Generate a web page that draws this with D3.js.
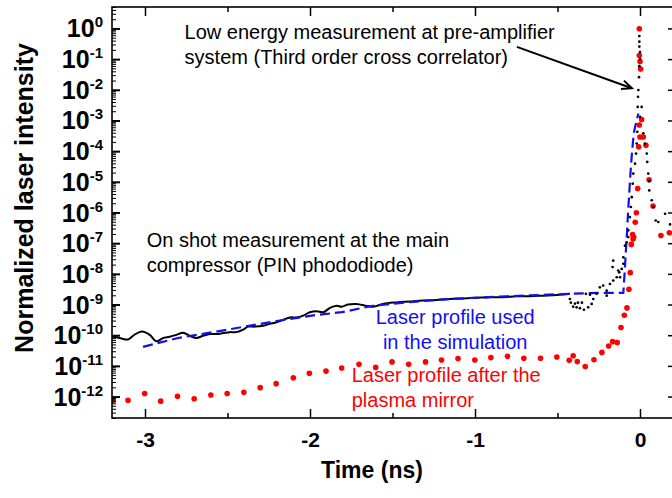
<!DOCTYPE html>
<html>
<head>
<meta charset="utf-8">
<script src="https://cdn.jsdelivr.net/npm/d3@7"></script>
<style>
  html, body { margin: 0; padding: 0; background: #fff; }
  svg { display: block; font-family: "Liberation Sans", Arial, Helvetica, sans-serif; }
</style>
</head>
<body>
<svg id="chart" width="672" height="498"></svg>
<script>
// Laser contrast traces: time in ns, intensity stored as log10 of normalized intensity.

// On-shot PIN photodiode trace (main compressor)
const pinTime = [-3.204,-3.154,-3.103,-3.063,-3.018,-2.971,-2.931,-2.890,-2.850,-2.809,-2.769,-2.729,-2.688,-2.648,-2.607,-2.567,-2.526,-2.486,-2.445,-2.405,-2.375,-2.334,-2.283,-2.243,-2.203,-2.162,-2.122,-2.081,-2.041,-2.001,-1.960,-1.919,-1.879,-1.839,-1.808,-1.770,-1.719,-1.618,-1.558,-1.476,-1.396,-1.315,-1.234,-1.153,-1.072,-0.991,-0.910,-0.829,-0.748,-0.667,-0.587,-0.505,-0.425];
const pinExp = [-10.04,-10.09,-10.14,-9.98,-9.88,-9.99,-10.20,-10.09,-10.05,-9.99,-9.92,-10.02,-10.09,-10.02,-9.96,-9.96,-9.93,-9.90,-9.90,-9.82,-9.72,-9.72,-9.69,-9.63,-9.58,-9.50,-9.42,-9.42,-9.36,-9.25,-9.22,-9.25,-9.11,-9.04,-9.07,-9.00,-8.98,-9.07,-8.98,-8.93,-8.90,-8.87,-8.85,-8.82,-8.80,-8.78,-8.76,-8.76,-8.73,-8.73,-8.71,-8.69,-8.65];

// Laser profile used in the simulation
const simTime = [-3.012,-2.799,-2.597,-2.395,-2.192,-1.990,-1.808,-1.618,-1.416,-1.214,-1.012,-0.809,-0.607,-0.425,-0.243,-0.101,-0.093,-0.085,-0.078,-0.073,-0.066,-0.058,-0.049,-0.038,-0.025,-0.010];
const simExp = [-10.38,-10.09,-9.91,-9.72,-9.53,-9.36,-9.25,-9.04,-8.93,-8.84,-8.78,-8.73,-8.69,-8.65,-8.62,-8.62,-7.95,-7.20,-6.60,-6.05,-5.45,-4.73,-4.08,-3.42,-3.10,-2.77];

// Laser profile after the plasma mirror
const pmTime = [-3.194,-3.103,-3.002,-2.905,-2.803,-2.702,-2.601,-2.502,-2.401,-2.302,-2.205,-2.101,-2.004,-1.903,-1.808,-1.703,-1.602,-1.503,-1.402,-1.300,-1.203,-1.103,-1.001,-0.904,-0.803,-0.704,-0.603,-0.504,-0.429,-0.405,-0.380,-0.332,-0.279,-0.231,-0.190,-0.166,-0.138,-0.115,-0.095,-0.079,-0.067,-0.059,-0.053,-0.045,-0.042,-0.038,-0.029,-0.022,-0.014,-0.008,-0.004,-0.004,-0.004,0.000,0.000,0.004,0.010,0.020,0.036,0.055,0.079,0.127,0.178];
const pmExp = [-12.13,-12.12,-11.90,-12.15,-11.99,-12.07,-11.95,-11.90,-11.86,-11.71,-11.58,-11.39,-11.24,-11.17,-11.07,-10.95,-11.05,-10.87,-10.95,-10.87,-10.81,-10.76,-10.81,-10.73,-10.69,-10.75,-10.75,-10.71,-10.82,-10.67,-10.86,-11.02,-10.80,-10.56,-10.35,-10.21,-10.24,-9.75,-9.35,-9.11,-8.50,-7.96,-7.04,-6.72,-6.86,-6.80,-6.32,-6.01,-5.22,-3.86,-3.15,-0.88,-0.01,-1.08,-3.54,-1.32,-2.97,-3.54,-3.81,-4.93,-5.79,-6.75,-6.66];

// Third order cross correlator (pre-amplifier)
const xcTime = [-0.425,-0.419,-0.405,-0.394,-0.384,-0.376,-0.364,-0.352,-0.340,-0.328,-0.314,-0.303,-0.293,-0.283,-0.263,-0.243,-0.223,-0.202,-0.202,-0.182,-0.162,-0.162,-0.166,-0.141,-0.132,-0.126,-0.121,-0.111,-0.101,-0.101,-0.091,-0.081,-0.071,-0.071,-0.061,-0.055,-0.050,-0.044,-0.041,-0.030,-0.024,-0.020,-0.016,-0.014,-0.012,-0.010,-0.006,-0.004,0.000,0.000,-0.004,-0.004,-0.004,0.000,0.010,0.020,0.030,0.041,0.044,0.050,0.056,0.056,0.071,0.081,0.095,0.111,0.152,0.182];
const xcExp = [-8.82,-8.94,-9.07,-8.97,-9.09,-8.94,-9.12,-8.94,-9.17,-8.65,-9.09,-8.68,-8.98,-8.82,-8.65,-8.44,-8.38,-8.55,-8.71,-8.33,-8.22,-7.57,-7.78,-8.11,-7.89,-7.95,-8.11,-7.84,-7.67,-7.46,-7.08,-6.97,-6.80,-6.58,-6.15,-5.82,-5.50,-5.06,-4.73,-4.41,-4.08,-3.75,-3.37,-2.56,-2.23,-2.01,-1.59,-1.23,-1.00,-0.77,-0.59,-0.43,-0.25,-2.88,-2.56,-3.42,-3.75,-4.08,-4.35,-4.73,-4.98,-5.28,-5.60,-5.82,-6.26,-6.31,-6.04,-6.39];

// Axis ticks
const xMajorTicks = [-3, -2, -1, 0];
const xMinorTicks = [-2.5, -1.5, -0.5];
const yDecades = [-12, -11, -10, -9, -8, -7, -6, -5, -4, -3, -2, -1, 0];

const L = 112, R = 673, T = 7, B = 418;

const x = d3.scaleLinear().domain([-3.2, 0.2]).range([L, R]);
const y = d3.scaleLog().domain([2e-13, 5]).range([B, T]);
const pow = e => Math.pow(10, e);

const svg = d3.select('#chart');

svg.append('defs').append('clipPath').attr('id', 'plot-clip')
  .append('rect').attr('x', L).attr('y', T).attr('width', R - L).attr('height', B - T);

const plot = svg.append('g').attr('clip-path', 'url(#plot-clip)');

const zip = (ts, es) => ts.map((t, i) => ({ t, v: pow(es[i]) }));

// PIN photodiode solid line
plot.append('path')
  .datum(zip(pinTime, pinExp))
  .attr('fill', 'none')
  .attr('stroke', '#000')
  .attr('stroke-width', 2)
  .attr('d', d3.line().x(d => x(d.t)).y(d => y(d.v)).curve(d3.curveCatmullRom.alpha(0.5)));

// Simulation profile dashed line
plot.append('path')
  .datum(zip(simTime, simExp))
  .attr('fill', 'none')
  .attr('stroke', '#1010f0')
  .attr('stroke-width', 2.2)
  .attr('stroke-dasharray', '10,5')
  .attr('d', d3.line().x(d => x(d.t)).y(d => y(d.v)));

// Plasma mirror profile dots
plot.append('g').selectAll('circle')
  .data(zip(pmTime, pmExp))
  .join('circle')
  .attr('cx', d => x(d.t))
  .attr('cy', d => y(d.v))
  .attr('r', 2.8)
  .attr('fill', '#ff0000');

// Cross correlator dots
plot.append('g').selectAll('circle')
  .data(zip(xcTime, xcExp))
  .join('circle')
  .attr('cx', d => x(d.t))
  .attr('cy', d => y(d.v))
  .attr('r', 1.35)
  .attr('fill', '#000');

// Axes
const tickStyle = g => {
  g.select('.domain').remove();
  g.selectAll('line').attr('stroke', '#000');
};

const yMinor = [];
yDecades.concat([-13]).forEach(e => {
  for (let k = 2; k <= 9; k++) {
    const v = k * pow(e);
    if (v >= 2e-13 && v <= 5) yMinor.push(v);
  }
});

// left: minor ticks
svg.append('g').attr('transform', `translate(${L},0)`)
  .call(d3.axisLeft(y).tickValues(yMinor).tickSize(-4).tickFormat(''))
  .call(tickStyle)
  .call(g => g.selectAll('line').attr('stroke-width', 1));

// left: major ticks with superscript labels
const yAxisG = svg.append('g').attr('transform', `translate(${L},0)`)
  .call(d3.axisLeft(y).tickValues(yDecades.map(pow)).tickSize(-8).tickFormat(''))
  .call(tickStyle)
  .call(g => g.selectAll('line').attr('stroke-width', 2));

yAxisG.selectAll('.tick').each(function (d) {
  const e = Math.round(Math.log10(d));
  const t = d3.select(this).append('text')
    .attr('x', -9)
    .attr('y', 8.5)
    .attr('fill', '#000')
    .attr('text-anchor', 'end')
    .attr('font-weight', 'bold');
  t.append('tspan').attr('font-size', 25).text('10');
  t.append('tspan').attr('font-size', 15).attr('dy', -10).text(String(e));
});

// right mirror ticks
svg.append('g').attr('transform', `translate(${R},0)`)
  .call(d3.axisRight(y).tickValues(yDecades.map(pow)).tickSize(-5).tickFormat(''))
  .call(tickStyle)
  .call(g => g.selectAll('line').attr('stroke-width', 1.5));

// bottom axis
const xAxisG = svg.append('g').attr('transform', `translate(0,${B})`)
  .call(d3.axisBottom(x).tickValues(xMajorTicks).tickSize(-9).tickPadding(14).tickFormat(d => String(d)))
  .call(tickStyle)
  .call(g => g.selectAll('line').attr('stroke-width', 1.5));
xAxisG.selectAll('text')
  .attr('fill', '#000')
  .attr('font-size', 21)
  .attr('font-weight', 'bold')
  .attr('font-family', '"Liberation Sans", Arial, sans-serif');

svg.append('g').attr('transform', `translate(0,${B})`)
  .call(d3.axisBottom(x).tickValues(xMinorTicks).tickSize(-5).tickFormat(''))
  .call(tickStyle)
  .call(g => g.selectAll('line').attr('stroke-width', 1.5));

// top mirror ticks
svg.append('g').attr('transform', `translate(0,${T})`)
  .call(d3.axisTop(x).tickValues(xMajorTicks).tickSize(-9).tickFormat(''))
  .call(tickStyle)
  .call(g => g.selectAll('line').attr('stroke-width', 1.5));
svg.append('g').attr('transform', `translate(0,${T})`)
  .call(d3.axisTop(x).tickValues(xMinorTicks).tickSize(-5).tickFormat(''))
  .call(tickStyle)
  .call(g => g.selectAll('line').attr('stroke-width', 1.5));

// frame
svg.append('rect')
  .attr('x', L).attr('y', T).attr('width', R - L).attr('height', B - T)
  .attr('fill', 'none').attr('stroke', '#000').attr('stroke-width', 1.6);

// axis titles
svg.append('text')
  .attr('x', 372).attr('y', 478)
  .attr('text-anchor', 'middle')
  .attr('font-size', 23).attr('font-weight', 'bold').attr('fill', '#000')
  .text('Time (ns)');

svg.append('text')
  .attr('transform', 'translate(33,198) rotate(-90)')
  .attr('text-anchor', 'middle')
  .attr('font-size', 25).attr('font-weight', 'bold').attr('fill', '#000')
  .text('Normalized laser intensity');

// annotations (anchored in data coordinates)
const notes = [
  { t: -2.76, e: -0.34, anchor: 'start', color: '#000', lines: ['Low energy measurement at pre-amplifier', 'system (Third order cross correlator)'] },
  { t: -2.99, e: -7.12, anchor: 'start', color: '#000', lines: ['On shot measurement at the main', 'compressor (PIN phododiode)'] },
  { t: -1.120, e: -9.63, anchor: 'middle', color: '#1010f0', lines: ['Laser profile used', 'in the simulation'] },
  { t: -1.747, e: -11.54, anchor: 'start', color: '#ff0000', lines: ['Laser profile after the', 'plasma mirror'] }
];
notes.forEach(n => {
  const txt = svg.append('text')
    .attr('x', x(n.t)).attr('y', y(pow(n.e)))
    .attr('text-anchor', n.anchor)
    .attr('font-size', 20).attr('fill', n.color);
  n.lines.forEach((s, i) => {
    txt.append('tspan').attr('x', x(n.t)).attr('dy', i === 0 ? 0 : 25).text(s);
  });
});

// arrow to the correlator peak
const arrowFrom = { t: -0.746, e: -0.60 };
const arrowTo = { t: -0.049, e: -1.95 };
const x1 = x(arrowFrom.t), y1 = y(pow(arrowFrom.e));
const x2 = x(arrowTo.t), y2 = y(pow(arrowTo.e));
const ang = Math.atan2(y2 - y1, x2 - x1);
const head = 11, spread = 0.42;
svg.append('line')
  .attr('x1', x1).attr('y1', y1).attr('x2', x2).attr('y2', y2)
  .attr('stroke', '#000').attr('stroke-width', 2);
svg.append('path')
  .attr('d', `M${x2 - head * Math.cos(ang - spread)},${y2 - head * Math.sin(ang - spread)}L${x2},${y2}L${x2 - head * Math.cos(ang + spread)},${y2 - head * Math.sin(ang + spread)}`)
  .attr('fill', 'none').attr('stroke', '#000').attr('stroke-width', 2);
</script>
</body>
</html>
